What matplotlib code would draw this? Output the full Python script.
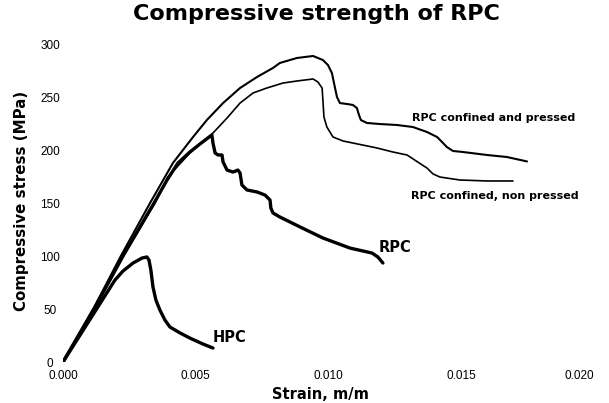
import matplotlib
matplotlib.use("Agg")
import matplotlib.pyplot as plt

# strain (m/m) and stress (MPa)
hpc_strain = [0.0, 0.00196, 0.00226, 0.00264, 0.00298, 0.00316, 0.00324, 0.00331, 0.00339, 0.00350,
              0.00365, 0.00384, 0.00403, 0.00441, 0.00478, 0.00527, 0.00565]
hpc_stress = [0.0, 77.4, 85.8, 93.4, 98.1, 99.1, 96.2, 86.8, 70.8, 58.5,
              49.1, 39.6, 33.0, 27.4, 22.6, 17.0, 13.2]

rpc_strain = [0.0, 0.00121, 0.00226, 0.00343, 0.00392, 0.00433, 0.00478, 0.00516, 0.00561, 0.00565,
              0.00573, 0.00584, 0.00599, 0.00603, 0.00618, 0.00640, 0.00659, 0.00667, 0.00674, 0.00693,
              0.00731, 0.00761, 0.00780, 0.00783, 0.00791, 0.00817, 0.00893, 0.00979, 0.01081, 0.01164,
              0.01186, 0.01205]
rpc_stress = [0.0, 51.9, 100, 150, 171.7, 187.7, 198.1, 205.7, 214.2, 206.6,
              197.2, 195.3, 195.3, 188.7, 181.1, 179.2, 181.1, 178.3, 167.0, 162.3,
              160.4, 157.5, 152.8, 145.3, 140.6, 136.8, 127.4, 117.0, 107.5, 102.8,
              99.1, 93.4]

press_strain = [0.0, 0.00118, 0.00218, 0.00328, 0.00384, 0.00414, 0.00452, 0.00490, 0.00542, 0.00603,
                0.00667, 0.00731, 0.00791, 0.00817, 0.00855, 0.00881, 0.00942, 0.00979, 0.00998, 0.01013,
                0.01024, 0.01032, 0.01043, 0.01070, 0.01092, 0.01107, 0.01115, 0.01122, 0.01145, 0.01194,
                0.01258, 0.01318, 0.01371, 0.01409, 0.01428, 0.01446, 0.01469, 0.01507, 0.01597, 0.01672,
                0.01748]
press_stress = [0.0, 51.9, 100, 150, 174.5, 187.7, 200.0, 212.3, 228.3, 244.3,
                258.5, 268.9, 277.4, 282.1, 284.9, 286.8, 288.7, 284.9, 280.2, 272.6,
                259.4, 250.0, 244.3, 243.4, 242.5, 239.6, 233.0, 228.3, 225.5, 224.5,
                223.6, 221.7, 217.0, 212.3, 207.5, 202.8, 199.1, 198.1, 195.3, 193.4,
                189.2]

nonp_strain = [0.0, 0.00124, 0.00228, 0.00347, 0.00395, 0.00478, 0.00565, 0.00618, 0.00667, 0.00716,
               0.00768, 0.00829, 0.00881, 0.00942, 0.00960, 0.00976, 0.00979, 0.00983, 0.00994, 0.01017,
               0.01055, 0.01092, 0.01183, 0.01243, 0.01296, 0.01333, 0.01371, 0.01394, 0.01420, 0.01495,
               0.01597, 0.01695]
nonp_stress = [0.0, 51.9, 100, 150, 174.5, 197.2, 216.0, 230.2, 244.3, 253.8,
               258.5, 263.2, 265.1, 267.0, 264.2, 258.5, 247.2, 231.1, 221.7, 212.3,
               208.5, 206.6, 201.9, 198.1, 195.3, 189.2, 183.0, 177.4, 174.5, 171.7,
               170.8, 170.8]

xticks = [0.000, 0.005, 0.010, 0.015, 0.020]
yticks = [0, 50, 100, 150, 200, 250, 300]

bold_font = ["DejaVu Sans"]
tick_font = ["Liberation Sans", "DejaVu Sans"]

fig = plt.figure(figsize=(6.09, 4.03), dpi=100)
ax = fig.add_axes([0.1034, 0.1017, 0.8937, 0.7891])

line_kw = dict(color="black", solid_capstyle="round", solid_joinstyle="round")
ax.plot(press_strain, press_stress, lw=1.5, **line_kw)
ax.plot(nonp_strain, nonp_stress, lw=1.2, **line_kw)
ax.plot(rpc_strain, rpc_stress, lw=2.4, **line_kw)
ax.plot(hpc_strain, hpc_stress, lw=2.4, **line_kw)

ax.text(0.01315, 227.8, "RPC confined and pressed", family=bold_font, weight="bold", fontsize=8, va="baseline")
ax.text(0.01311, 153.8, "RPC confined, non pressed", family=bold_font, weight="bold", fontsize=8, va="baseline")
ax.text(0.01190, 104, "RPC", family=bold_font, weight="bold", fontsize=10.5, va="baseline")
ax.text(0.00565, 18.9, "HPC", family=bold_font, weight="bold", fontsize=10.5, va="baseline")

ax.set_xlim(0, 0.0205)
ax.set_ylim(0, 300)
ax.set_xticks(xticks)
ax.set_xticklabels(["%.3f" % t for t in xticks], family=tick_font, fontsize=8.5)
ax.set_yticks(yticks)
ax.set_yticklabels([str(t) for t in yticks], family=tick_font, fontsize=8.5, ha="center")
ax.tick_params(axis="both", length=0)
ax.tick_params(axis="x", pad=5.5)
ax.tick_params(axis="y", pad=9.4)
for s in ax.spines.values():
    s.set_visible(False)
# keep the last tick label inside the canvas
ax.get_xticklabels()[-1].set_ha("right")
ax.get_xticklabels()[-1].set_x(0.0)

fig.text(316.5 / 609, 1 - 20 / 403, "Compressive strength of RPC", family=bold_font,
         weight="bold", fontsize=16, ha="center", va="baseline")
fig.text(320 / 609, 1 - 399 / 403, "Strain, m/m", family=bold_font, weight="bold",
         fontsize=10.5, ha="center", va="baseline")
fig.text(22 / 609, 1 - 201 / 403, "Compressive stress (MPa)", family=bold_font, weight="bold",
         fontsize=10.8, ha="center", va="center", rotation=90)

fig.savefig("out.png", dpi=100)
